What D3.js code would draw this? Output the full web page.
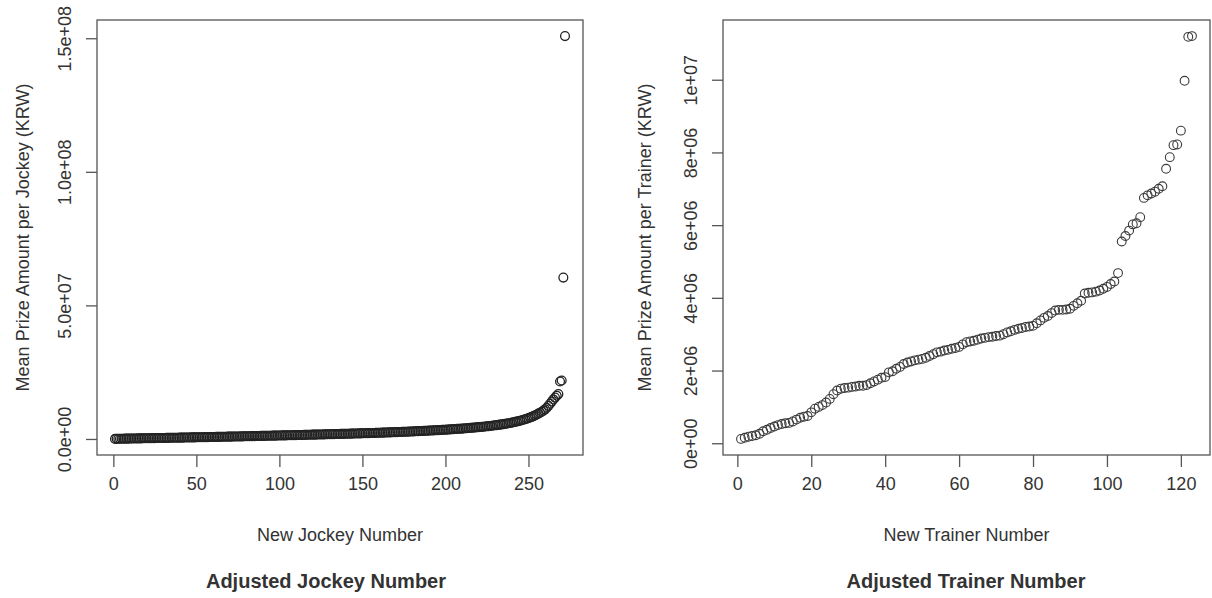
<!DOCTYPE html>
<html><head><meta charset="utf-8">
<script src="https://cdn.jsdelivr.net/npm/d3@7"></script>
<style>
body{margin:0;background:#fff;}
text{font-family:"Liberation Sans",Arial,sans-serif;fill:#333;}
</style></head>
<body><svg id="c" width="1212" height="598"></svg>
<script>
// Mean prize per jockey, sorted (millions of KRW)
const jockeyValues = [
0.03,0.05,0.06,0.08,0.09,0.1,0.12,0.13,0.14,0.15,
0.16,0.18,0.19,0.2,0.21,0.22,0.24,0.25,0.26,0.27,
0.28,0.29,0.3,0.31,0.33,0.34,0.35,0.36,0.37,0.38,
0.39,0.4,0.41,0.43,0.44,0.45,0.46,0.47,0.48,0.5,
0.51,0.52,0.53,0.54,0.56,0.57,0.58,0.59,0.6,0.62,
0.63,0.64,0.65,0.67,0.68,0.69,0.7,0.72,0.73,0.74,
0.75,0.77,0.78,0.79,0.81,0.82,0.83,0.85,0.86,0.87,
0.89,0.9,0.91,0.93,0.94,0.95,0.97,0.98,1.0,1.01,
1.02,1.04,1.05,1.07,1.08,1.1,1.11,1.12,1.14,1.15,
1.17,1.18,1.2,1.21,1.23,1.24,1.26,1.27,1.29,1.3,
1.32,1.33,1.35,1.36,1.38,1.39,1.41,1.42,1.44,1.45,
1.47,1.48,1.5,1.51,1.53,1.55,1.56,1.58,1.59,1.61,
1.62,1.64,1.66,1.67,1.69,1.7,1.72,1.74,1.75,1.77,
1.79,1.8,1.82,1.84,1.85,1.87,1.89,1.9,1.92,1.94,
1.96,1.97,1.99,2.01,2.03,2.04,2.06,2.08,2.1,2.12,
2.14,2.16,2.18,2.2,2.22,2.24,2.26,2.28,2.3,2.32,
2.34,2.37,2.39,2.41,2.43,2.46,2.48,2.5,2.53,2.55,
2.58,2.6,2.63,2.65,2.68,2.7,2.73,2.76,2.79,2.81,
2.84,2.87,2.9,2.93,2.96,2.99,3.02,3.05,3.08,3.12,
3.15,3.18,3.22,3.25,3.29,3.32,3.36,3.4,3.43,3.47,
3.51,3.55,3.59,3.63,3.67,3.71,3.76,3.8,3.85,3.89,
3.94,3.99,4.04,4.09,4.14,4.19,4.25,4.3,4.36,4.42,
4.48,4.54,4.6,4.67,4.74,4.81,4.88,4.95,5.03,5.11,
5.19,5.28,5.37,5.46,5.56,5.66,5.77,5.88,6.0,6.12,
6.25,6.39,6.53,6.68,6.84,7.01,7.19,7.38,7.58,7.8,
8.03,8.28,8.55,8.84,9.15,9.48,9.84,10.2,10.6,11.1,
11.7,12.4,13.2,14.0,14.8,15.5,16.2,16.8,
21.5,21.9,60.4,150.8];

// Mean prize per trainer, sorted (millions of KRW)
const trainerValues = [
0.12,0.15,0.18,0.2,0.22,0.26,0.33,0.37,0.42,0.46,
0.5,0.53,0.55,0.56,0.6,0.65,0.7,0.73,0.75,0.85,
0.95,1.0,1.05,1.12,1.22,1.35,1.45,1.5,1.52,1.53,
1.55,1.56,1.58,1.58,1.6,1.65,1.7,1.75,1.8,1.82,
1.95,1.98,2.05,2.1,2.18,2.22,2.25,2.28,2.3,2.32,
2.35,2.4,2.45,2.5,2.52,2.55,2.57,2.6,2.62,2.65,
2.72,2.78,2.8,2.82,2.85,2.88,2.9,2.92,2.93,2.95,
2.96,3.0,3.05,3.08,3.12,3.15,3.17,3.2,3.21,3.23,
3.3,3.38,3.45,3.5,3.58,3.65,3.67,3.67,3.68,3.7,
3.78,3.85,3.92,4.12,4.14,4.15,4.17,4.2,4.25,4.3,
4.38,4.45,4.68,5.55,5.7,5.85,6.02,6.05,6.22,6.75,
6.82,6.87,6.92,7.0,7.07,7.55,7.87,8.2,8.22,8.6,
9.97,11.18,11.2];

const jockeyXTicks = [0,50,100,150,200,250];
const jockeyYTicks = [0,5e7,1e8,1.5e8];
const jockeyYTickLabels = ["0.0e+00","5.0e+07","1.0e+08","1.5e+08"];
const trainerXTicks = [0,20,40,60,80,100,120];
const trainerYTicks = [0,2e6,4e6,6e6,8e6,1e7];
const trainerYTickLabels = ["0e+00","2e+06","4e+06","6e+06","8e+06","1e+07"];

const svg = d3.select("#c");
const FS = 18;

function rRange(lo, hi){ const d=(hi-lo)*0.04; return [lo-d, hi+d]; }

function panel(o){
  const vals = o.values.map(v=>v*1e6);
  const n = vals.length;
  const x = d3.scaleLinear().domain(rRange(1,n)).range([o.left,o.right]);
  const y = d3.scaleLinear().domain(rRange(d3.min(vals),d3.max(vals))).range([o.bottom,o.top]);
  const g = svg.append("g");
  g.selectAll("circle").data(vals).join("circle")
    .attr("cx",(d,i)=>x(i+1)).attr("cy",d=>y(d)).attr("r",4.4)
    .attr("fill","none").attr("stroke",o.pointColor).attr("stroke-width",o.pointWidth);
  g.append("rect").attr("x",o.left).attr("y",o.top)
    .attr("width",o.right-o.left).attr("height",o.bottom-o.top)
    .attr("fill","none").attr("stroke","#555").attr("stroke-width",1.3);
  const xa = d3.axisBottom(x).tickValues(o.xTicks).tickSize(12).tickPadding(10).tickFormat(d3.format("d"));
  const gx = g.append("g").attr("transform",`translate(0,${o.bottom})`).call(xa);
  gx.select(".domain").remove();
  gx.selectAll("line").attr("stroke","#555").attr("stroke-width",1.3);
  gx.selectAll("text").attr("font-size",FS).attr("fill","#333").attr("font-family","Liberation Sans, Arial, sans-serif");
  const ya = d3.axisLeft(y).tickValues(o.yTicks).tickSize(11).tickFormat((d,i)=>o.yLabels[i]);
  const gy = g.append("g").attr("transform",`translate(${o.left},0)`).call(ya);
  gy.select(".domain").remove();
  gy.selectAll("line").attr("stroke","#555").attr("stroke-width",1.3);
  gy.selectAll("text").attr("font-size",FS).attr("fill","#333").attr("font-family","Liberation Sans, Arial, sans-serif")
    .attr("x",null).attr("dy",null).attr("text-anchor","middle")
    .attr("transform",`translate(${o.yLabX - o.left},0) rotate(-90)`);
  g.append("text").attr("x",(o.left+o.right)/2).attr("y",541).attr("text-anchor","middle")
    .attr("font-size",FS).text(o.xTitle);
  g.append("text").attr("transform",`translate(${o.yTitleX},${(o.top+o.bottom)/2}) rotate(-90)`)
    .attr("text-anchor","middle").attr("font-size",FS).text(o.yTitle);
  g.append("text").attr("x",o.titleX).attr("y",588).attr("text-anchor","middle")
    .attr("font-size",20).attr("font-weight","bold").attr("fill","#111").text(o.title);
}

panel({values:jockeyValues,left:97,right:583,top:20,bottom:455,pointColor:"#222",pointWidth:1.3,
  xTicks:jockeyXTicks,yTicks:jockeyYTicks,yLabels:jockeyYTickLabels,yLabX:71,yTitleX:29,
  xTitle:"New Jockey Number",yTitle:"Mean Prize Amount per Jockey (KRW)",
  title:"Adjusted Jockey Number",titleX:326});
panel({values:trainerValues,left:723,right:1210,top:20,bottom:455,pointColor:"#3a3a3a",pointWidth:1.1,
  xTicks:trainerXTicks,yTicks:trainerYTicks,yLabels:trainerYTickLabels,yLabX:697,yTitleX:651,
  xTitle:"New Trainer Number",yTitle:"Mean Prize Amount per Trainer (KRW)",
  title:"Adjusted Trainer Number",titleX:966});
</script></body></html>
